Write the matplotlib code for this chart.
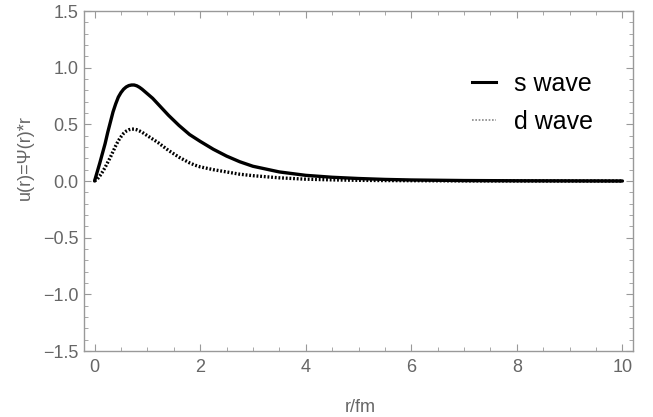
import numpy as np
import matplotlib
matplotlib.use("Agg")
import matplotlib.pyplot as plt
from matplotlib.lines import Line2D
from matplotlib.ticker import MultipleLocator

# Data
r = [0, 0.05, 0.1, 0.15, 0.2, 0.25, 0.3, 0.35, 0.4, 0.45, 0.5, 0.55, 0.6, 0.65,
     0.7, 0.75, 0.8, 0.85, 0.9, 0.95, 1.0, 1.1, 1.2, 1.3, 1.4, 1.5, 1.6, 1.7,
     1.8, 1.9, 2.0, 2.25, 2.5, 2.75, 3.0, 3.5, 4.0, 4.5, 5.0, 5.5, 6.0, 7.0,
     8.0, 9.0, 10.0]
s_wave = [0, 0.08, 0.16, 0.245, 0.33, 0.43, 0.52, 0.61, 0.68, 0.74, 0.78, 0.81,
          0.83, 0.842, 0.847, 0.847, 0.84, 0.827, 0.81, 0.79, 0.77, 0.73, 0.68,
          0.63, 0.58, 0.535, 0.49, 0.45, 0.41, 0.38, 0.35, 0.28, 0.22, 0.17,
          0.13, 0.08, 0.05, 0.033, 0.022, 0.014, 0.009, 0.004, 0.002, 0.001, 0.0]
d_wave = [0, 0.015, 0.045, 0.08, 0.12, 0.165, 0.21, 0.26, 0.31, 0.355, 0.39,
          0.42, 0.44, 0.452, 0.458, 0.458, 0.452, 0.442, 0.43, 0.415, 0.40,
          0.37, 0.34, 0.305, 0.27, 0.24, 0.21, 0.185, 0.16, 0.14, 0.125, 0.10,
          0.08, 0.06, 0.047, 0.028, 0.016, 0.01, 0.006, 0.004, 0.003, 0.001,
          0.0005, 0.0002, 0.0]
labels = ["s wave", "d wave"]
x_label = "r/fm"
y_label = "u(r)=\u03a8(r)*r"

plt.rcParams['font.family'] = ['Liberation Sans', 'DejaVu Sans']

W, H = 653, 417
fig = plt.figure(figsize=(W / 100, H / 100), dpi=100)
ax = fig.add_axes([84 / W, 1 - 351 / H, (633 - 84) / W, (351 - 11) / H])

ax.plot(r, s_wave, color='black', lw=2.4, solid_capstyle='round',
        solid_joinstyle='round')
ax.plot(r, d_wave, color='black', lw=2.4, linestyle=(0, (0.55, 0.55)))

ax.set_xlim(-0.2, 10.2)
ax.set_ylim(-1.5, 1.5)

ax.xaxis.set_major_locator(MultipleLocator(2))
ax.xaxis.set_minor_locator(MultipleLocator(0.5))
ax.yaxis.set_major_locator(MultipleLocator(0.5))
ax.yaxis.set_minor_locator(MultipleLocator(0.1))
ax.yaxis.set_major_formatter(matplotlib.ticker.FuncFormatter(
    lambda v, p: ("%.1f" % v).replace('-', '\u2212')))

gray = '#999999'
for sp in ax.spines.values():
    sp.set_color(gray)
    sp.set_linewidth(1.0)
ax.tick_params(which='both', direction='in', top=True, right=True, color=gray,
               labelcolor='#666666', labelsize=13)
ax.tick_params(which='major', length=5, width=0.8)
ax.tick_params(which='minor', length=2.8, width=0.6)
ax.tick_params(axis='x', which='major', pad=6)
ax.tick_params(axis='y', which='major', pad=4)

fig.text(360 / W, 1 - 408 / H, x_label, ha='center', va='center',
         fontsize=13, color='#666666')
fig.text(25 / W, 1 - 158 / H, y_label, ha='center', va='center',
         rotation=90, fontsize=13, color='#666666')

handles = [Line2D([], [], color='black', lw=2.2),
           Line2D([], [], color='#888888', lw=1.2, linestyle=(0, (1, 1)))]
leg = ax.legend(handles, labels, loc='upper left', frameon=False,
                bbox_to_anchor=(472 / W, 1 - 72 / H),
                bbox_transform=fig.transFigure,
                fontsize=18, handlelength=0.95, handletextpad=0.75,
                labelspacing=0.55, borderaxespad=0, borderpad=0)

fig.savefig("out.png", dpi=100)
